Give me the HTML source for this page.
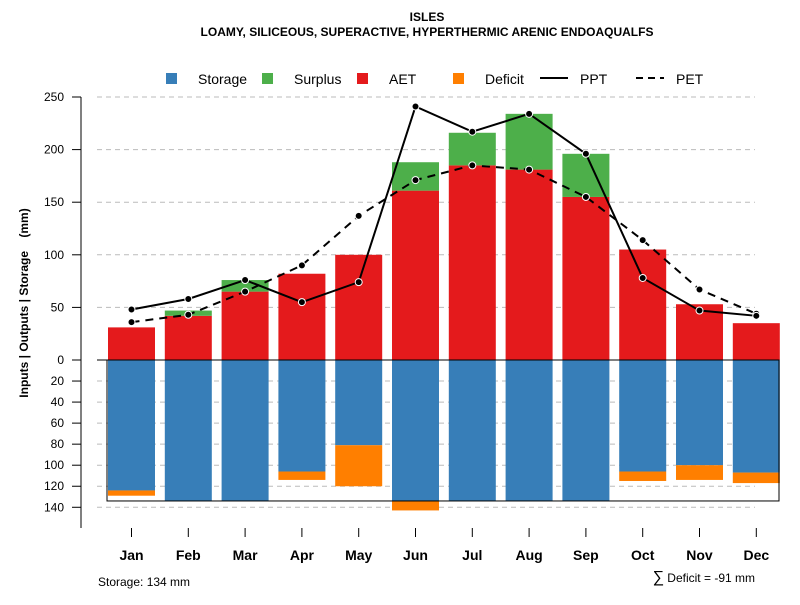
<!DOCTYPE html>
<html><head><meta charset="utf-8"><style>
body{margin:0;background:#fff}
svg{font-family:"Liberation Sans",sans-serif}
</style></head><body>
<svg id="c" width="800" height="600" xmlns="http://www.w3.org/2000/svg">
<text x="427" y="21" text-anchor="middle" font-size="12" font-weight="bold">ISLES</text>
<text x="427" y="36" text-anchor="middle" font-size="12" font-weight="bold">LOAMY, SILICEOUS, SUPERACTIVE, HYPERTHERMIC ARENIC ENDOAQUALFS</text>
<g font-size="14">
<rect x="166" y="73" width="11" height="11" fill="#377eb8"/>
<text x="198" y="84">Storage</text>
<rect x="262" y="73" width="11" height="11" fill="#4daf4a"/>
<text x="294" y="84">Surplus</text>
<rect x="357" y="73" width="11" height="11" fill="#e41a1c"/>
<text x="389" y="84">AET</text>
<rect x="453" y="73" width="11" height="11" fill="#ff7f00"/>
<text x="485" y="84">Deficit</text>
<line x1="540" y1="78" x2="568" y2="78" stroke="#000" stroke-width="2"/>
<text x="580" y="84">PPT</text>
<line x1="636" y1="78" x2="664" y2="78" stroke="#000" stroke-width="2" stroke-dasharray="7,5"/>
<text x="676" y="84">PET</text>
</g>
<text transform="translate(28,303) rotate(-90)" text-anchor="middle" font-size="12" font-weight="bold" style="white-space:pre">Inputs | Outputs | Storage    (mm)</text>
<text x="98" y="586" font-size="12">Storage: 134 mm</text>
<text x="755" y="582" text-anchor="end" font-size="12"><tspan font-size="16">∑</tspan> Deficit = -91 mm</text>
<g id="plot"></g>
</svg>
<script>
const months=["Jan","Feb","Mar","Apr","May","Jun","Jul","Aug","Sep","Oct","Nov","Dec"];
const aet=[31,42,65,82,100,161,185,181,155,105,53,35];
const surplus=[0,5,11,0,0,27,31,53,41,0,0,0];
const ppt=[48,58,76,55,74,241,217,234,196,78,47,42];
const pet=[36,43,65,90,137,171,185,181,155,114,67,44];
const storage=[124,134,134,106,81,134,134,134,134,106,100,107];
const deficit=[5,0,0,8,39,9,0,0,0,9,14,10];
const upTicks=[0,50,100,150,200,250];
const downTicks=[20,40,60,80,100,120,140];
const capacity=134;
const NS="http://www.w3.org/2000/svg";
const g=document.getElementById('plot');
const y0=360,k=1.052;
const yUp=v=>y0-v*k, yDn=v=>y0+v*k;
const xc=i=>131.5+i*56.8, bw=47;
function mk(t,a){const e=document.createElementNS(NS,t);for(const n in a)e.setAttribute(n,a[n]);g.appendChild(e);return e;}
function tick(y,name){
 const l=mk('line',{x1:72,x2:81,y1:y,y2:y,stroke:'#000'});
 
 
}
upTicks.forEach(t=>{
 if(t>0){const l=mk('line',{x1:97,x2:755,y1:yUp(t),y2:yUp(t),stroke:'#bbb','stroke-dasharray':'5,4'});
 
 }
 tick(yUp(t),'y-tick-mark-'+t);
 const tx=mk('text',{x:64,y:yUp(t)+4,'text-anchor':'end','font-size':12});tx.textContent=t;
 
 
});
downTicks.forEach(t=>{
 const l=mk('line',{x1:97,x2:755,y1:yDn(t),y2:yDn(t),stroke:'#bbb','stroke-dasharray':'5,4'});
 
 
 tick(yDn(t),'y-tick-mark-neg-'+t);
 const tx=mk('text',{x:64,y:yDn(t)+4,'text-anchor':'end','font-size':12});tx.textContent=t;
 
 
});
months.forEach((m,i)=>{
 const x=xc(i)-bw/2;
 let r=mk('rect',{x:x,y:yUp(aet[i]),width:bw,height:aet[i]*k,fill:'#e41a1c'});
 
 
 if(surplus[i]>0){r=mk('rect',{x:x,y:yUp(aet[i]+surplus[i]),width:bw,height:surplus[i]*k,fill:'#4daf4a'});
 
 }
 r=mk('rect',{x:x,y:y0,width:bw,height:storage[i]*k,fill:'#377eb8'});
 
 
 if(deficit[i]>0){r=mk('rect',{x:x,y:yDn(storage[i]),width:bw,height:deficit[i]*k,fill:'#ff7f00'});
 
 }
 const tk=mk('line',{x1:xc(i),x2:xc(i),y1:528,y2:537,stroke:'#000'});
 
 
 const tx=mk('text',{x:xc(i),y:560,'text-anchor':'middle','font-size':14,'font-weight':'bold'});tx.textContent=m;
 
 
});
let b=mk('rect',{x:107,y:y0,width:672,height:capacity*k,fill:'none',stroke:'#000','stroke-width':1});


b=mk('line',{x1:97,x2:779,y1:y0,y2:y0,stroke:'#000'});


b=mk('line',{x1:81,x2:81,y1:97,y2:528,stroke:'#000'});


function series(vals,name,dash){
 const p=mk('polyline',{points:vals.map((v,i)=>xc(i)+','+yUp(v)).join(' '),fill:'none',stroke:'#000','stroke-width':2});
 if(dash)p.setAttribute('stroke-dasharray','8,6');
 
 
 vals.forEach((v,i)=>{const c=mk('circle',{cx:xc(i),cy:yUp(v),r:3.5,fill:'#000',stroke:'#fff','stroke-width':1});
 
 });
}
series(pet,'pet',true);
series(ppt,'ppt',false);
</script>
</body></html>
